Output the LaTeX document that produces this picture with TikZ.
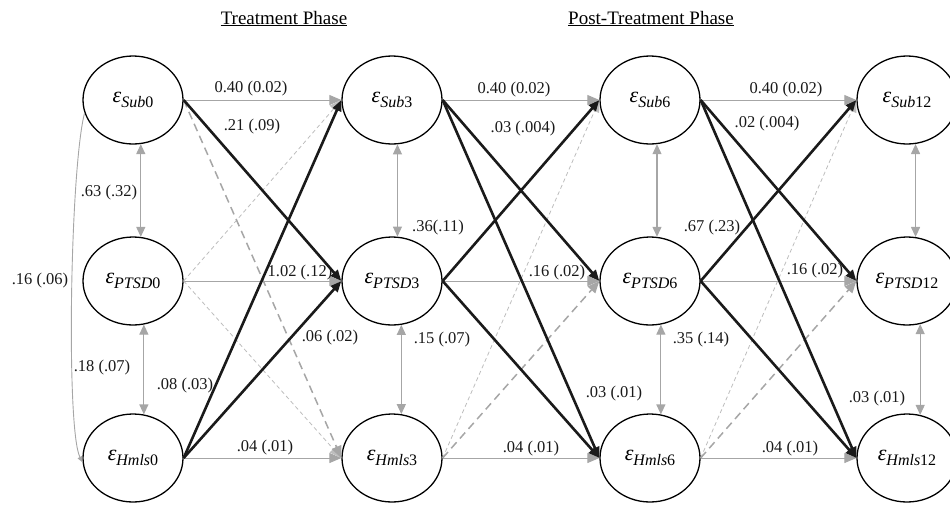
\documentclass[tikz,border=0pt]{standalone}
\usepackage{fontspec}
\setmainfont{Liberation Serif}
\usetikzlibrary{arrows.meta,shapes.geometric,calc}
\definecolor{lg}{HTML}{A6A6A6}
\definecolor{lgd}{HTML}{BDBDBD}
\definecolor{dk}{HTML}{1A1A1A}
\newcommand{\eps}[2]{{\itshape ε}\raisebox{-5pt}{\fontsize{16}{16}\selectfont\itshape #1\upshape #2}}
\begin{document}
\begin{tikzpicture}[x=1pt,y=-1pt,
  var/.style={ellipse, draw=black, line width=1.3pt, fill=white, minimum width=100pt, minimum height=88pt, inner sep=0pt, font=\fontsize{22}{24}\selectfont},
  lbl/.style={font=\fontsize{16.5}{19}\selectfont, text=black!90, inner sep=0pt},
  ttl/.style={font=\fontsize{19}{22}\selectfont, inner sep=0pt},
  uline/.style={black, line width=1.4pt},
  gpath/.style={lg, line width=1pt, -{Triangle[length=12pt,width=10pt]}},
  sig/.style={dk, line width=2.6pt, -{Triangle[length=11pt,width=9pt]}},
  dashm/.style={lg, line width=1.5pt, dash pattern=on 8pt off 5pt, -{Triangle[length=12pt,width=10pt]}},
  dashf/.style={lgd, line width=0.8pt, dash pattern=on 4pt off 3pt, -{Triangle[length=12pt,width=10pt]}},
  cov/.style={lg, line width=1.2pt, {Triangle[length=10pt,width=9pt]}-{Triangle[length=10pt,width=9pt]}},
  curv/.style={lg, line width=0.9pt, -{Triangle[length=6pt,width=5pt]}}
]
\useasboundingbox (0,0) rectangle (950,504);

% titles
\node[ttl, anchor=base] (t1) at (284,24) {Treatment Phase};
\node[ttl, anchor=base] (t2) at (651,24) {Post-Treatment Phase};
\draw[uline] ($(t1.south west)+(0,1)$) -- ($(t1.south east)+(0,1)$);
\draw[uline] ($(t2.south west)+(0,1)$) -- ($(t2.south east)+(0,1)$);

% variables
\node[var] (S0) at (133,100) {\eps{Sub}{0}};
\node[var] (P0) at (133,281) {\eps{PTSD}{0}};
\node[var] (H0) at (133,458) {\eps{Hmls}{0}};
\node[var] (S3) at (392,100) {\eps{Sub}{3}};
\node[var] (P3) at (392,281) {\eps{PTSD}{3}};
\node[var] (H3) at (392,458) {\eps{Hmls}{3}};
\node[var] (S6) at (650,100) {\eps{Sub}{6}};
\node[var] (P6) at (650,281) {\eps{PTSD}{6}};
\node[var] (H6) at (650,458) {\eps{Hmls}{6}};
\node[var] (S12) at (907,100) {\eps{Sub}{12}};
\node[var] (P12) at (907,281) {\eps{PTSD}{12}};
\node[var] (H12) at (907,458) {\eps{Hmls}{12}};

% covariances
\draw[cov] (S0.-80) -- (P0.80);
\draw[cov] (P0.-76) -- (H0.76);
\draw[cov] (S3.-83) -- (P3.83);
\draw[cov] (P3.-78) -- (H3.78);
\draw[cov] (S6.-81) -- (P6.81);
\draw[cov] (P6.-76) -- (H6.76);
\draw[cov] (S12.-79) -- (P12.79);
\draw[cov] (P12.-73) -- (H12.73);
\draw[curv] (S0.195) .. controls (70,170) and (66,430) .. (H0.185);

% autoregressive paths
\foreach \a/\b in {S0/S3,P0/P3,H0/H3,S3/S6,P3/P6,H3/H6,S6/S12,P6/P12,H6/H12}
  \draw[gpath] (\a.east) -- (\b.west);

% non-significant cross paths
\draw[dashf] (P0.east) -- (S3.west);
\draw[dashf] (P0.east) -- (H3.west);
\draw[dashm] (S0.east) -- (H3.west);
\draw[dashf] (H3.east) -- (S6.west);
\draw[dashm] (H3.east) -- (P6.west);
\draw[dashf] (H6.east) -- (S12.west);
\draw[dashm] (H6.east) -- (P12.west);

% significant cross paths
\draw[sig] (S0.east) -- (P3.west);
\draw[sig] (H0.east) -- (S3.west);
\draw[sig] (H0.east) -- (P3.west);
\draw[sig] (S3.east) -- (P6.west);
\draw[sig] (S3.east) -- (H6.west);
\draw[sig] (P3.east) -- (S6.west);
\draw[sig] (P3.east) -- (H6.west);
\draw[sig] (S6.east) -- (P12.west);
\draw[sig] (S6.east) -- (H12.west);
\draw[sig] (P6.east) -- (S12.west);
\draw[sig] (P6.east) -- (H12.west);

% labels
\node[lbl] (l1) at (251,89) {0.40 (0.02)};
\node[lbl] (l2) at (252,127) {.21 (.09)};
\node[lbl] (l3) at (109,193) {.63 (.32)};
\node[lbl] (l4) at (40,281) {.16 (.06)};
\node[lbl] (l5) at (102,368) {.18 (.07)};
\node[lbl] (l6) at (185,386) {.08 (.03)};
\node[lbl] (l7) at (265,448) {.04 (.01)};
\node[lbl] (l8) at (300,273) {1.02 (.12)};
\node[lbl] (l9) at (330,338) {.06 (.02)};
\node[lbl] (l10) at (514,90) {0.40 (0.02)};
\node[lbl] (l11) at (523,129) {.03 (.004)};
\node[lbl] (l12) at (438,228) {.36(.11)};
\node[lbl] (l13) at (557,273) {.16 (.02)};
\node[lbl] (l14) at (442,340) {.15 (.07)};
\node[lbl] (l15) at (614,394) {.03 (.01)};
\node[lbl] (l16) at (531,449) {.04 (.01)};
\node[lbl] (l17) at (786,90) {0.40 (0.02)};
\node[lbl] (l18) at (767,124) {.02 (.004)};
\node[lbl] (l19) at (712,228) {.67 (.23)};
\node[lbl] (l20) at (815,271) {.16 (.02)};
\node[lbl] (l21) at (701,340) {.35 (.14)};
\node[lbl] (l22) at (877,399) {.03 (.01)};
\node[lbl] (l23) at (790,449) {.04 (.01)};
\end{tikzpicture}
\end{document}
